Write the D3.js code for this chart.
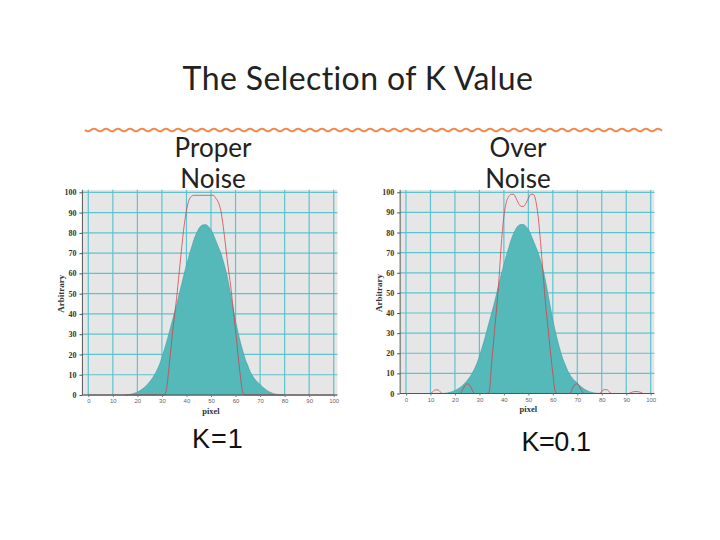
<!DOCTYPE html>
<html>
<head>
<meta charset="utf-8">
<script src="https://cdn.jsdelivr.net/npm/d3@7"></script>
<style>
  body { margin: 0; background: #fff; }
  svg { display: block; }
  text { font-variant-ligatures: none; }
</style>
</head>
<body>
<script>
var TITLE = "The Selection of K Value";
var PANEL_HEADS = [["Proper", "Noise"], ["Over", "Noise"]];
var K_LABELS = ["K=1", "K=0.1"];
var X_TICKS = [0, 10, 20, 30, 40, 50, 60, 70, 80, 90, 100];
var Y_TICKS = [0, 10, 20, 30, 40, 50, 60, 70, 80, 90, 100];

// measured profile (teal), same in both panels
var signalX = [15, 17, 18, 19, 20, 21, 22, 23, 24, 25, 26, 27, 28, 29, 30, 31, 32, 33, 34, 35, 36, 37, 38, 39, 40,
  41, 42, 43, 44, 45, 46, 47, 48, 49, 50, 51, 52, 53, 54, 55, 56, 57, 58, 59, 60, 61, 62, 63, 64, 65,
  66, 67, 68, 69, 70, 71, 72, 73, 74, 75, 76, 77, 78, 80];
var signalY = [0, 0.3, 0.6, 1, 1.4, 2.1, 2.9, 3.9, 5.1, 6.5, 8.1, 10, 12.3, 15, 18.5, 22.5, 26.5, 31, 35.5, 40, 44.5, 49.5, 54.5, 59.5, 64,
  68.5, 72.5, 76.5, 79.5, 82, 83.5, 84, 84, 83, 81.5, 79, 76, 73, 70, 66, 61.5, 56, 49.5, 43, 36.5, 31, 26, 21.5, 17.5, 14.5,
  11.5, 9.3, 7.6, 6.3, 5.2, 4, 3, 2.1, 1.4, 0.9, 0.5, 0.3, 0.1, 0];

// restored profile, K=1
var kOneX = [0, 31, 32, 33, 34, 35, 36, 37, 38, 39, 40, 41, 42, 43, 47, 51, 52, 53, 54, 55, 56, 57, 58, 59, 60, 61, 62, 63, 64, 100];
var kOneY = [0, 0, 4, 15, 27, 38, 48, 60, 72, 83, 91, 96, 98, 98.5, 98.5, 98.5, 97, 95, 91, 83, 73, 63, 54, 43, 32, 20, 9, 1, 0, 0];

// restored profile, K=0.1
var kTenthX = [0, 10, 11, 12, 13, 14, 15, 22, 23, 24, 25, 26, 27, 28, 33, 34, 35, 36, 37, 38, 39, 40, 41, 42, 43, 44, 45, 46, 47, 48,
  49, 50, 51, 52, 53, 54, 55, 56, 57, 58, 59, 60, 61, 62, 67, 68, 69, 70, 71, 72, 73, 79, 80, 81, 82, 83, 84,
  91, 92, 93, 94, 95, 96, 97, 100];
var kTenthY = [0, 0, 1, 1.8, 1.8, 0.8, 0, 0, 1.5, 3.8, 4.8, 4.2, 1.8, 0, 0, 1, 15, 29, 42, 57, 75, 88, 95, 98, 99, 99, 97, 94.5, 93, 93,
  94.5, 97, 99, 99, 96, 88, 75, 60, 45, 33, 21, 10, 1, 0, 0, 2.5, 4.5, 4.8, 3, 1, 0, 0, 1, 1.9, 1.9, 1, 0,
  0, 0.5, 0.9, 1, 0.9, 0.5, 0, 0];

var W = 720, H = 540;

function zip(xs, ys) {
  var out = [];
  for (var i = 0; i < xs.length; i++) out.push({x: xs[i], y: ys[i]});
  return out;
}

function main() {
  var svg = d3.select("body").append("svg")
    .attr("width", W)
    .attr("height", H);

  svg.append("text")
    .attr("x", 358).attr("y", 90)
    .attr("text-anchor", "middle")
    .style("font-family", "Lato, 'Open Sans', sans-serif")
    .style("font-size", "32px")
    .style("letter-spacing", "0.4px")
    .attr("fill", "#222")
    .text(TITLE);

  drawWavyRule(svg, 85, 662, 130);

  var panels = [
    {cx: 213, left: 88.3, right: 333.7, bottom: 395, top: 192.3, curve: kOneY, cx2: kOneX, kx: 218, ky: 448},
    {cx: 518, left: 406, right: 650.7, bottom: 393.5, top: 192.3, curve: kTenthY, cx2: kTenthX, kx: 556, ky: 451}
  ];

  for (var i = 0; i < panels.length; i++) {
    var p = panels[i];
    var head = PANEL_HEADS[i];
    for (var j = 0; j < head.length; j++) {
      svg.append("text")
        .attr("x", p.cx).attr("y", 157 + j * 31)
        .attr("text-anchor", "middle")
        .style("font-family", "Lato, 'Open Sans', sans-serif")
        .style("font-size", "26px")
        .attr("fill", "#222")
        .text(head[j]);
    }
    renderPanel(svg, p);
    svg.append("text")
      .attr("x", p.kx).attr("y", p.ky)
      .attr("text-anchor", "middle")
      .style("font-family", "'Liberation Sans', Arial, sans-serif")
      .style("font-size", "27px")
      .style("letter-spacing", i === 0 ? "1px" : "-0.5px")
      .attr("fill", "#111")
      .text(K_LABELS[i]);
  }
}

function drawWavyRule(svg, x0, x1, y) {
  var pts = [];
  for (var x = x0; x <= x1; x += 1) {
    pts.push([x, y + 1.4 * Math.sin((x - x0) / 12 * 2 * Math.PI)]);
  }
  svg.append("path")
    .attr("d", d3.line().curve(d3.curveBasis)(pts))
    .attr("fill", "none")
    .attr("stroke", "#f0874a")
    .attr("stroke-width", 2);
}

function renderPanel(svg, p) {
  var x = d3.scaleLinear().domain([0, 100]).range([p.left, p.right]);
  var y = d3.scaleLinear().domain([0, 100]).range([p.bottom, p.top]);
  var xMin = -2.4, xMax = 101.5, yMax = 101.2;
  var g = svg.append("g");

  g.append("rect")
    .attr("x", x(xMin)).attr("y", y(yMax))
    .attr("width", x(xMax) - x(xMin))
    .attr("height", y(0) - y(yMax))
    .attr("fill", "#e6e6e6");

  g.selectAll("line.vg").data(X_TICKS).enter().append("line")
    .attr("x1", function(d) { return x(d); })
    .attr("x2", function(d) { return x(d); })
    .attr("y1", y(yMax)).attr("y2", y(0))
    .attr("stroke", "#5ec3cf").attr("stroke-width", 1.2);

  g.selectAll("line.hg").data(Y_TICKS).enter().append("line")
    .attr("x1", x(xMin)).attr("x2", x(xMax))
    .attr("y1", function(d) { return y(d); })
    .attr("y2", function(d) { return y(d); })
    .attr("stroke", "#5ec3cf").attr("stroke-width", 1.2);

  var area = d3.area()
    .x(function(d) { return x(d.x); })
    .y0(y(0))
    .y1(function(d) { return y(d.y); })
    .curve(d3.curveMonotoneX);

  g.append("path")
    .attr("d", area(zip(signalX, signalY)))
    .attr("fill", "#55b8b9")
    .attr("stroke", "#3f9ea3")
    .attr("stroke-width", 0.6);

  var line = d3.line()
    .x(function(d) { return x(d.x); })
    .y(function(d) { return y(d.y); })
    .curve(d3.curveMonotoneX);

  g.append("path")
    .attr("d", line(zip(p.cx2, p.curve)))
    .attr("fill", "none")
    .attr("stroke", "#d43c44")
    .attr("stroke-width", 1)
    .attr("stroke-opacity", 0.75);

  // axes
  var yAxis = d3.axisLeft(y).tickValues(Y_TICKS).tickSize(3).tickPadding(3);
  var ya = g.append("g").attr("transform", "translate(" + x(xMin) + ",0)").call(yAxis);
  ya.select(".domain").attr("stroke", "#555").attr("d", "M0," + y(0) + "V" + y(yMax));
  ya.selectAll(".tick line").attr("stroke", "#555");
  ya.selectAll("text")
    .style("font-family", "'Liberation Serif', 'Times New Roman', serif")
    .style("font-weight", "bold")
    .style("font-size", "8px")
    .attr("fill", "#333");

  var xAxis = d3.axisBottom(x).tickValues(X_TICKS).tickSize(2).tickPadding(2);
  var xa = g.append("g").attr("transform", "translate(0," + y(0) + ")").call(xAxis);
  xa.select(".domain").attr("stroke", "#555").attr("d", "M" + x(xMin) + ",0H" + x(xMax));
  xa.selectAll(".tick line").attr("stroke", "#777");
  xa.selectAll("text")
    .style("font-family", "'Liberation Sans', Arial, sans-serif")
    .style("font-size", "6px")
    .attr("fill", "#666");

  g.append("text")
    .attr("x", x(50)).attr("y", y(0) + 18.5)
    .attr("text-anchor", "middle")
    .style("font-family", "'Liberation Serif', 'Times New Roman', serif")
    .style("font-weight", "bold")
    .style("font-size", "8.5px")
    .attr("fill", "#333")
    .text("pixel");

  g.append("text")
    .attr("transform", "translate(" + (x(xMin) - 18) + "," + y(50) + ") rotate(-90)")
    .attr("text-anchor", "middle")
    .style("font-family", "'Liberation Serif', 'Times New Roman', serif")
    .style("font-weight", "bold")
    .style("font-size", "9px")
    .attr("fill", "#333")
    .text("Arbitrary");
}

main();
</script>
</body>
</html>
